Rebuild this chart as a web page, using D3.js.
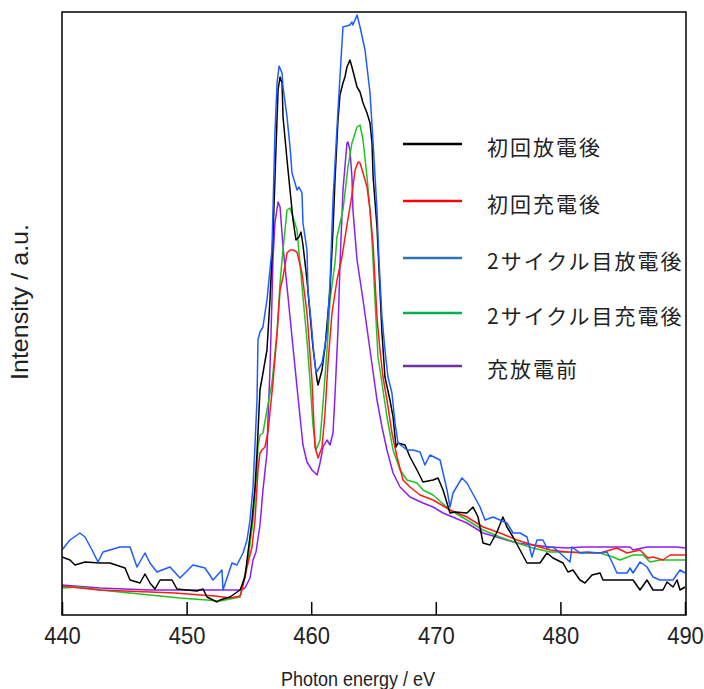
<!DOCTYPE html>
<html>
<head>
<meta charset="utf-8">
<script src="https://cdn.jsdelivr.net/npm/d3@7"></script>
<style>
  body { margin: 0; background: #fff; }
  text { font-family: "Liberation Sans", Arial, sans-serif; }
  .legend text { font-family: "Noto Sans CJK JP", sans-serif; }
</style>
</head>
<body>
<svg id="chart" width="704" height="689"></svg>
<script>
// photon energy (eV) , intensity (a.u.)
const firstDischarge = [
  [440.00,58],[440.64,55],[441.04,50],[441.85,53],[443.05,52],[443.85,52],[445.06,47],[445.46,35],
  [446.26,32],[446.66,41],[447.06,32],[447.46,26],[447.87,35],[448.83,35],[449.23,26],[450.83,24],
  [451.32,26],[451.64,18],[452.44,13],[452.68,15],[453.48,18],[454.29,25],[454.69,38],[454.85,55],
  [455.25,95],[455.49,128],[455.65,162],[455.89,225],[456.13,242],[456.45,265],[456.69,315],[456.93,378],
  [457.17,465],[457.34,525],[457.50,538],[457.66,532],[457.74,498],[458.06,455],[458.30,425],[458.54,395],
  [458.78,375],[459.02,378],[459.18,383],[459.34,370],[459.66,335],[460.14,268],[460.47,235],[460.55,230],
  [460.87,245],[461.11,268],[461.51,325],[461.75,385],[461.91,435],[462.15,495],[462.31,520],[462.55,532],
  [462.71,538],[462.87,548],[463.11,555],[463.27,548],[463.68,528],[463.92,523],[464.16,512],[464.48,502],
  [464.72,492],[464.88,472],[464.97,438],[465.28,388],[465.52,325],[465.68,282],[465.92,238],[466.32,215],
  [466.57,198],[466.81,168],[466.97,172],[467.53,170],[467.93,158],[468.49,145],[468.97,133],[469.78,135],
  [470.18,137],[470.58,125],[471.14,102],[471.54,103],[472.50,102],[472.99,108],[473.39,98],[473.79,72],
  [474.35,70],[474.91,83],[475.39,98],[475.71,88],[476.20,78],[476.76,65],[477.32,52],[478.36,52],
  [478.92,62],[479.41,57],[480.21,52],[480.61,43],[481.01,45],[481.57,35],[481.97,32],[482.54,40],
  [483.18,42],[483.42,35],[485.83,35],[486.39,25],[486.95,35],[487.43,25],[488.23,25],[488.56,33],
  [489.04,28],[489.36,35],[489.60,25],[490.00,28]
];

const firstCharge = [
  [440.00,29],[441.44,27],[443.05,25],[445.06,24],[447.06,23],[449.07,22],[451.08,20],[452.28,19],
  [453.48,17],[454.29,19],[454.45,25],[454.85,48],[455.25,68],[455.49,95],[455.73,145],[455.89,162],
  [456.05,165],[456.29,168],[456.53,183],[456.93,232],[457.26,282],[457.50,325],[457.74,338],[458.06,362],
  [458.30,365],[458.54,365],[458.86,363],[459.26,342],[459.66,302],[460.06,235],[460.30,168],[460.55,157],
  [460.87,168],[461.11,202],[461.35,252],[461.67,302],[462.07,335],[462.47,358],[462.87,390],[463.27,420],
  [463.52,445],[463.76,453],[463.92,452],[464.16,442],[464.48,428],[464.72,405],[464.97,370],[465.28,298],
  [465.52,265],[465.76,238],[466.08,215],[466.48,182],[466.89,158],[467.37,135],[467.93,128],[468.73,120],
  [469.78,115],[471.14,105],[472.50,98],[473.79,88],[475.15,82],[476.52,75],[477.80,70],[479.17,65],
  [480.53,63],[483.18,62],[484.54,67],[485.35,62],[486.39,65],[487.03,57],[487.43,58],[488.23,55],
  [488.80,60],[490.00,60]
];

const secondDischarge = [
  [440.00,65],[440.64,75],[441.44,82],[441.85,78],[442.41,65],[442.89,53],[443.29,63],[444.65,68],
  [445.46,68],[446.02,48],[446.66,62],[447.06,52],[447.62,43],[448.67,48],[449.47,37],[450.51,50],
  [451.48,47],[452.12,35],[452.84,45],[452.92,25],[453.64,52],[454.04,50],[454.53,62],[454.85,75],
  [455.09,95],[455.33,128],[455.49,170],[455.65,215],[455.73,275],[455.89,283],[456.13,288],[456.29,302],
  [456.45,315],[456.69,345],[456.85,365],[457.09,482],[457.26,532],[457.42,549],[457.66,542],[457.74,528],
  [458.06,498],[458.30,468],[458.46,442],[458.70,432],[458.86,425],[459.02,428],[459.26,422],[459.34,392],
  [459.66,365],[459.74,325],[459.98,295],[460.22,260],[460.39,242],[460.63,247],[460.87,252],[461.27,282],
  [461.51,332],[461.75,415],[462.15,505],[462.55,588],[463.11,590],[463.27,593],[463.35,590],[463.68,600],
  [463.92,588],[464.32,565],[464.72,522],[464.97,472],[465.28,405],[465.44,355],[465.68,298],[465.92,265],
  [466.16,238],[466.48,222],[466.73,192],[466.97,172],[467.69,165],[468.17,165],[468.73,163],[469.13,150],
  [469.53,160],[470.34,155],[470.90,125],[471.14,108],[471.38,122],[472.10,137],[472.50,132],[473.55,108],
  [473.95,95],[474.59,98],[475.15,95],[475.71,92],[476.20,82],[476.76,82],[477.32,78],[477.72,58],
  [478.12,75],[478.60,75],[478.92,67],[479.41,68],[479.97,62],[480.77,53],[480.93,68],[481.57,62],
  [482.13,63],[483.18,62],[483.74,63],[484.14,53],[484.54,42],[485.35,42],[485.59,47],[485.83,42],
  [486.39,53],[486.95,48],[487.43,38],[487.99,35],[489.04,35],[489.60,45],[490.00,42]
];

const secondCharge = [
  [440.00,27],[441.44,28],[443.05,25],[444.65,23],[447.06,20],[449.47,17],[452.68,14],[454.29,18],
  [454.45,28],[454.93,55],[455.33,95],[455.65,145],[455.73,168],[455.89,180],[456.13,182],[456.45,205],
  [456.85,232],[457.26,282],[457.50,332],[457.66,355],[457.74,365],[458.06,405],[458.30,407],[458.54,398],
  [458.86,385],[459.34,318],[459.66,275],[459.90,235],[460.14,190],[460.39,165],[460.71,175],[460.95,212],
  [461.27,265],[461.51,315],[461.91,352],[462.07,378],[462.55,405],[462.95,448],[463.27,472],[463.68,488],
  [463.92,490],[464.16,475],[464.48,438],[464.72,405],[464.88,375],[465.12,315],[465.36,258],[465.68,232],
  [466.08,198],[466.57,165],[467.13,145],[467.69,135],[468.49,132],[468.97,125],[469.78,120],[471.14,105],
  [472.50,95],[473.79,85],[475.15,78],[476.52,72],[477.80,67],[479.17,63],[480.53,63],[481.81,62],
  [483.18,62],[484.22,58],[484.78,55],[485.83,60],[486.63,60],[487.19,53],[487.99,55],[488.80,55],
  [490.00,55]
];

const beforeCycling = [
  [440.00,30],[443.05,27],[447.06,25],[451.08,25],[454.29,25],[454.69,27],[455.09,37],[455.33,55],
  [455.57,63],[455.89,90],[456.13,125],[456.45,162],[456.53,195],[456.69,245],[456.85,315],[456.93,355],
  [457.09,392],[457.34,413],[457.50,408],[457.74,368],[458.14,318],[458.54,268],[458.94,218],[459.34,170],
  [459.66,153],[460.06,145],[460.47,140],[460.71,152],[460.95,168],[461.27,175],[461.51,170],[461.75,182],
  [461.91,220],[462.15,285],[462.31,350],[462.55,425],[462.87,472],[462.95,473],[463.11,465],[463.27,438],
  [463.35,405],[463.68,355],[464.16,315],[464.72,265],[465.28,215],[465.68,188],[466.08,165],[466.57,142],
  [467.13,128],[467.93,118],[468.97,112],[469.78,108],[470.58,102],[472.50,92],[473.79,82],[475.15,77],
  [476.52,72],[477.80,70],[479.17,68],[480.53,67],[481.81,68],[483.18,68],[485.59,68],[485.83,65],
  [486.95,68],[489.36,68],[490.00,67]
];

const seriesNames = ['初回放電後', '初回充電後', '2サイクル目放電後', '2サイクル目充電後', '充放電前'];
const seriesData = [firstDischarge, firstCharge, secondDischarge, secondCharge, beforeCycling];
const xTicks = [440, 450, 460, 470, 480, 490];

// colours: the plotted traces are brighter than the legend swatches
const lineColors = ['#000000', '#ff1a1a', '#1f5cff', '#22c222', '#8a1ff0'];
const legendColors = ['#000000', '#ff0000', '#2e75b6', '#00b050', '#7030a0'];

const svg = d3.select('#chart');
const plotLeft = 62, plotRight = 685, plotTop = 12, plotBottom = 615;
// the original picture is a little taller than wide, so text is stretched vertically
const stretch = 1.09;

let x = d3.scaleLinear().domain([440, 490]).range([plotLeft, plotRight]);
let y = d3.scaleLinear().domain([0, 603]).range([plotBottom, plotTop]);

svg.append('clipPath').attr('id', 'plot')
  .append('rect').attr('x', plotLeft).attr('y', plotTop)
  .attr('width', plotRight - plotLeft + 1).attr('height', plotBottom - plotTop);

let line = d3.line().x(d => x(d[0])).y(d => y(d[1]));

// draw the purple first so the others sit on top like in the original
let order = [4, 3, 1, 0, 2];
order.forEach(i => {
  svg.append('path')
    .attr('clip-path', 'url(#plot)')
    .attr('d', line(seriesData[i]))
    .attr('fill', 'none')
    .attr('stroke', lineColors[i])
    .attr('stroke-width', 1.5)
    .attr('stroke-linejoin', 'round');
});

// frame
svg.append('rect')
  .attr('x', plotLeft).attr('y', plotTop)
  .attr('width', 686 - plotLeft).attr('height', plotBottom - plotTop)
  .attr('fill', 'none').attr('stroke', '#000').attr('stroke-width', 1.5);

let xAxis = d3.axisBottom(x).tickValues(xTicks).tickSize(-13).tickSizeOuter(0).tickPadding(11);
let gx = svg.append('g').attr('transform', `translate(0,${plotBottom})`).call(xAxis);
gx.select('.domain').remove();
gx.selectAll('.tick line').attr('stroke', '#000').attr('stroke-width', 1.5);
gx.selectAll('.tick text')
  .attr('font-family', '"Liberation Sans", Arial, sans-serif')
  .attr('font-size', 22)
  .attr('fill', '#222')
  .attr('transform', `scale(1,${stretch})`);

svg.append('text')
  .attr('transform', `translate(358,686) scale(1,${stretch})`)
  .attr('text-anchor', 'middle')
  .attr('font-size', 18).attr('fill', '#222')
  .text('Photon energy / eV');

svg.append('text')
  .attr('transform', `translate(28,302) rotate(-90) scale(${stretch},1)`)
  .attr('text-anchor', 'middle')
  .attr('font-size', 23).attr('fill', '#222')
  .text('Intensity / a.u.');

// legend
let legend = svg.append('g').attr('class', 'legend');
let legendY = [144, 201, 258, 313, 366];
seriesNames.forEach((name, i) => {
  legend.append('line')
    .attr('x1', 403).attr('x2', 462)
    .attr('y1', legendY[i]).attr('y2', legendY[i])
    .attr('stroke', legendColors[i]).attr('stroke-width', 2.5);
  legend.append('text')
    .attr('x', 487).attr('y', legendY[i] + 2)
    .attr('dominant-baseline', 'central')
    .attr('font-size', 21)
    .attr('letter-spacing', 2)
    .attr('fill', '#222')
    .text(name);
});
</script>
</body>
</html>
